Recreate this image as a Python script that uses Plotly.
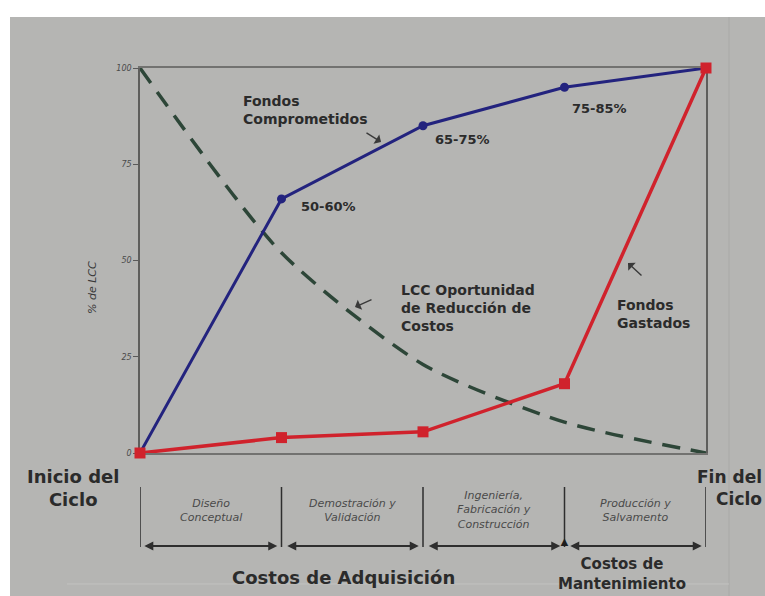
import plotly.graph_objects as go

# Life-cycle stages along the horizontal axis (0 = start of cycle, 4 = end)
stages = [0, 1, 2, 3, 4]

# % of life-cycle cost
fondos_comprometidos = [0, 66, 85, 95, 100]
fondos_gastados = [0, 4, 5.5, 18, 100]
oportunidad_reduccion = [100, 52, 23, 8, 0]

committed_labels = ["", "50-60%", "65-75%", "75-85%", ""]

y_ticks = [0, 25, 50, 75, 100]
y_tick_text = ["0", "25", "50", "75", "100"]

phase_names = [
    "Diseño<br>Conceptual",
    "Demostración y<br>Validación",
    "Ingeniería,<br>Fabricación y<br>Construcción",
    "Producción y<br>Salvamento",
]

BG = "#b5b5b3"
TXT = "#2b2b2b"
BLUE = "#23237e"
RED = "#d0222c"
GREEN = "#2d4638"
BOLD = "DejaVu Sans, Arial, sans-serif"

W, H = 765, 596
L, R, T, B = 140, 59, 68, 143
PW, PH = W - L - R, H - T - B


def px(xp):
    return (xp - L) / PW


def py(yp):
    return (H - B - yp) / PH


fig = go.Figure()

fig.add_trace(go.Scatter(
    x=stages, y=oportunidad_reduccion, mode="lines",
    line=dict(color=GREEN, width=3.5, dash="18px,11px", shape="spline", smoothing=0.7),
    cliponaxis=False, hoverinfo="skip",
))
fig.add_trace(go.Scatter(
    x=stages, y=fondos_comprometidos, mode="lines+markers",
    line=dict(color=BLUE, width=3),
    marker=dict(color=BLUE, size=9, symbol="circle"),
    cliponaxis=False, hoverinfo="skip",
))
fig.add_trace(go.Scatter(
    x=stages, y=fondos_gastados, mode="lines+markers",
    line=dict(color=RED, width=3.5),
    marker=dict(color=RED, size=11, symbol="square"),
    cliponaxis=False, hoverinfo="skip",
))

ann = []

# value labels beside the committed-funds points
label_shift = {1: (17, -8), 2: (10, -14), 3: (5, -21)}
for i, lab in enumerate(committed_labels):
    if lab:
        dx, dy = label_shift[i]
        ann.append(dict(x=stages[i], y=fondos_comprometidos[i], xref="x", yref="y",
                        text=lab, showarrow=False, xanchor="left", yanchor="middle",
                        xshift=dx, yshift=dy,
                        font=dict(family=BOLD, size=13, color=TXT, weight="bold")))


# series captions
def caption(text, xp, yp, size=14, align="left", xanchor="left"):
    ann.append(dict(x=px(xp), y=py(yp), xref="paper", yref="paper", text=text,
                    showarrow=False, xanchor=xanchor, yanchor="middle", align=align,
                    font=dict(family=BOLD, size=size, color=TXT, weight="bold")))


caption("Fondos<br>Comprometidos", 241, 110, size=14)
caption("LCC Oportunidad<br>de Reducción de<br>Costos", 399, 308, size=14)
caption("Fondos<br>Gastados", 615, 314, size=14)


def pointer(x_head, y_head, dx, dy):
    ann.append(dict(x=px(x_head), y=py(y_head), xref="paper", yref="paper",
                    ax=dx, ay=dy, axref="pixel", ayref="pixel", text="",
                    showarrow=True, arrowhead=1, arrowsize=1.3, arrowwidth=1.4,
                    arrowcolor="#3a3a3a"))


pointer(381, 142, -16, -10)
pointer(355, 307, 18, -8)
pointer(628, 263, 15, 14)

# start / end of cycle
caption("Inicio del<br>Ciclo", 73, 488, size=18, align="center", xanchor="center")
caption("Fin del<br>Ciclo", 764, 488, size=17, align="right", xanchor="right")

# phase labels between stage boundaries
phase_y = [510, 510, 510, 510]
for i, name in enumerate(phase_names):
    xm = (stages[i] + stages[i + 1]) / 2
    ann.append(dict(x=xm, y=py(phase_y[i]), xref="x", yref="paper", text=name,
                    showarrow=False, xanchor="center", yanchor="middle", align="center",
                    font=dict(family="DejaVu Sans, sans-serif", size=11, color="#4a4a4a",
                              style="italic")))

# double-headed arrows under each phase
arrow_y = py(546)
gap = 0.03
for i in range(len(stages) - 1):
    x0 = stages[i] + (0.02 if i == 0 else gap)
    x1 = stages[i + 1] - gap
    ann.append(dict(x=x1, y=arrow_y, xref="x", yref="paper",
                    ax=x0, ay=0, axref="x", ayref="pixel", text="",
                    showarrow=True, arrowhead=2, arrowside="end+start",
                    arrowsize=0.9, arrowwidth=2, arrowcolor="#2e2e2e",
                    startarrowhead=2, startarrowsize=0.9))

# marker where maintenance costs begin
ann.append(dict(x=stages[3], y=py(541), xref="x", yref="paper", text="▲",
                showarrow=False, xanchor="center", yanchor="middle",
                font=dict(size=13, color="#1e1e1e")))

caption("Costos de Adquisición", 343, 577, size=18, align="center", xanchor="center")
caption("Costos de<br>Mantenimiento", 622, 574, size=15, align="center", xanchor="center")

# y-axis title
ann.append(dict(x=px(92), y=py(288), xref="paper", yref="paper", text="% de LCC",
                showarrow=False, textangle=-90, xanchor="center", yanchor="middle",
                font=dict(family="DejaVu Sans, sans-serif", size=11, color="#3a3a3a",
                          style="italic")))

shapes = [
    # slide background with a thin white border at top and left
    dict(type="rect", xref="paper", yref="paper", x0=px(10), x1=px(W + 5),
         y0=py(17), y1=py(H + 5), fillcolor=BG, line=dict(width=0), layer="below"),
    dict(type="line", xref="paper", yref="paper", x0=px(729), x1=px(729),
         y0=py(17), y1=py(H), line=dict(color="#a9a9a7", width=1), layer="below"),
    dict(type="line", xref="paper", yref="paper", x0=px(67), x1=px(729),
         y0=py(584), y1=py(584), line=dict(color="#c2c2c0", width=1), layer="below"),
]
# vertical phase boundaries
for s in stages:
    shapes.append(dict(type="line", xref="x", yref="paper", x0=s, x1=s,
                       y0=py(487), y1=py(547), line=dict(color="#2e2e2e", width=1.5)))

fig.update_layout(
    width=W, height=H,
    margin=dict(l=L, r=R, t=T, b=B, pad=0),
    paper_bgcolor="white", plot_bgcolor="rgba(0,0,0,0)",
    showlegend=False,
    annotations=ann, shapes=shapes,
    xaxis=dict(range=[stages[0], stages[-1]], showticklabels=False, ticks="",
               showgrid=False, zeroline=False, showline=True, mirror=True,
               linecolor="#727270", linewidth=1.5, fixedrange=True, layer="below traces"),
    yaxis=dict(range=[0, 100], tickvals=y_ticks, ticktext=y_tick_text,
               ticks="outside", ticklen=5, tickcolor="#5a5a5a", tickwidth=1,
               tickfont=dict(family="DejaVu Sans, sans-serif", size=8, color="#4a4a4a",
                             style="italic"),
               showgrid=False, zeroline=False, showline=True, mirror=True,
               linecolor="#5e5e5c", linewidth=1.5, fixedrange=True, layer="below traces"),
)

fig.write_html("out.html")
